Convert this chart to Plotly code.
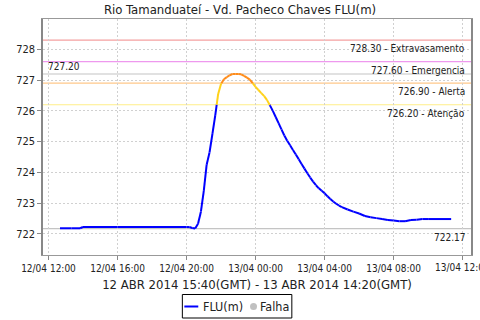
import plotly.graph_objects as go
import pandas as pd

# ---- data ----
times = ["2014-04-12 12:40", "2014-04-12 13:20", "2014-04-12 13:50", "2014-04-12 14:00",
         "2014-04-12 16:00", "2014-04-12 18:00", "2014-04-12 20:00", "2014-04-12 20:10",
         "2014-04-12 20:20", "2014-04-12 20:30", "2014-04-12 20:40", "2014-04-12 20:50",
         "2014-04-12 21:00", "2014-04-12 21:10", "2014-04-12 21:20", "2014-04-12 21:30",
         "2014-04-12 21:40", "2014-04-12 21:50", "2014-04-12 22:00", "2014-04-12 22:10",
         "2014-04-12 22:20", "2014-04-12 22:30", "2014-04-12 22:40", "2014-04-12 22:50",
         "2014-04-12 23:00", "2014-04-12 23:10", "2014-04-12 23:20", "2014-04-12 23:30",
         "2014-04-12 23:40", "2014-04-12 23:50", "2014-04-13 00:00", "2014-04-13 00:10",
         "2014-04-13 00:20", "2014-04-13 00:30", "2014-04-13 00:40", "2014-04-13 00:50",
         "2014-04-13 01:00", "2014-04-13 01:10", "2014-04-13 01:20", "2014-04-13 01:30",
         "2014-04-13 01:40", "2014-04-13 01:50", "2014-04-13 02:00", "2014-04-13 02:10",
         "2014-04-13 02:20", "2014-04-13 02:30", "2014-04-13 02:40", "2014-04-13 02:50",
         "2014-04-13 03:00", "2014-04-13 03:10", "2014-04-13 03:20", "2014-04-13 03:30",
         "2014-04-13 03:40", "2014-04-13 03:50", "2014-04-13 04:00", "2014-04-13 04:10",
         "2014-04-13 04:20", "2014-04-13 04:30", "2014-04-13 04:40", "2014-04-13 04:50",
         "2014-04-13 05:00", "2014-04-13 05:20", "2014-04-13 05:40", "2014-04-13 06:00",
         "2014-04-13 06:20", "2014-04-13 06:40", "2014-04-13 07:00", "2014-04-13 07:20",
         "2014-04-13 07:40", "2014-04-13 08:00", "2014-04-13 08:20", "2014-04-13 08:40",
         "2014-04-13 09:00", "2014-04-13 09:20", "2014-04-13 09:40", "2014-04-13 10:00",
         "2014-04-13 11:20"]
flu = [722.18, 722.18, 722.18, 722.22,
       722.22, 722.22, 722.22, 722.22,
       722.19, 722.17, 722.33, 722.72,
       723.40, 724.25, 724.65, 725.25,
       725.86, 726.55, 726.88, 727.03,
       727.10, 727.16, 727.20, 727.20,
       727.20, 727.19, 727.14, 727.08,
       727.02, 726.90, 726.78, 726.68,
       726.58, 726.48, 726.35, 726.18,
       726.00, 725.80, 725.60, 725.40,
       725.20, 725.03, 724.88, 724.73,
       724.58, 724.43, 724.27, 724.12,
       723.97, 723.83, 723.70, 723.58,
       723.48, 723.40, 723.32, 723.22,
       723.13, 723.05, 722.98, 722.92,
       722.87, 722.79, 722.72, 722.66,
       722.58, 722.54, 722.51, 722.48,
       722.45, 722.43, 722.41, 722.41,
       722.45, 722.46, 722.48, 722.48,
       722.48]

thr_values = [728.30, 727.60, 726.90, 726.20]
thr_labels = ["728.30 - Extravasamento", "727.60 - Emergencia", "726.90 - Alerta", "726.20 - Atenção"]
thr_colors = ["#F4A0A0", "#EE99EE", "#FFC88A", "#FFEE88"]
max_val = 727.20
min_val = 722.17

x_ticks = ["2014-04-12 12:00", "2014-04-12 16:00", "2014-04-12 20:00", "2014-04-13 00:00",
           "2014-04-13 04:00", "2014-04-13 08:00", "2014-04-13 12:00"]
x_tick_labels = ["12/04 12:00", "12/04 16:00", "12/04 20:00", "13/04 00:00",
                 "13/04 04:00", "13/04 08:00", "13/04 12:00"]
y_ticks = [722, 723, 724, 725, 726, 727, 728]

title = "Rio Tamanduateí - Vd. Pacheco Chaves FLU(m)"
x_title = "12 ABR 2014 15:40(GMT) - 13 ABR 2014 14:20(GMT)"
legend_names = ["FLU(m)", "Falha"]

# ---- colour-split the line at thresholds ----
ts = pd.to_datetime(times)
secs = [t.value / 1e9 for t in ts]
cuts = [726.20, 726.90]

def color_for(v):
    if v >= 726.90:
        return "orange"
    if v >= 726.20:
        return "yellow"
    return "blue"

segs = {"blue": ([], []), "yellow": ([], []), "orange": ([], [])}
for i in range(len(flu) - 1):
    x0, x1, y0, y1 = secs[i], secs[i + 1], flu[i], flu[i + 1]
    pts = [(x0, y0)]
    crossings = []
    for c in cuts:
        if (y0 - c) * (y1 - c) < 0:
            f = (c - y0) / (y1 - y0)
            crossings.append((x0 + f * (x1 - x0), c))
    crossings.sort()
    pts += crossings + [(x1, y1)]
    for j in range(len(pts) - 1):
        (a, ya), (b, yb) = pts[j], pts[j + 1]
        col = color_for((ya + yb) / 2)
        xs, ys = segs[col]
        xs += [pd.to_datetime(a, unit="s"), pd.to_datetime(b, unit="s"), None]
        ys += [ya, yb, None]

line_colors = {"blue": "#0000FF", "yellow": "#FFD21A", "orange": "#FF8C1A"}

FONT = "DejaVu Sans Condensed, DejaVu Sans, sans-serif"
TXT = "#222"

fig = go.Figure()
for col in ["blue", "yellow", "orange"]:
    fig.add_trace(go.Scatter(x=segs[col][0], y=segs[col][1], mode="lines",
                             line=dict(color=line_colors[col], width=2),
                             name=legend_names[0], showlegend=False))

# plot geometry in pixels (for placing the legend box below the plot)
L, R, T, B = 43, 7, 19, 65
PW, PH = 480 - L - R, 320 - T - B
def px(xp):
    return (xp - L) / PW
def py(yp):
    return (320 - B - yp) / PH

shapes = []
annotations = []
for v, lab, c in zip(thr_values, thr_labels, thr_colors):
    shapes.append(dict(type="line", xref="paper", x0=0, x1=1, yref="y", y0=v, y1=v,
                       line=dict(color=c, width=1.2), layer="below"))
    annotations.append(dict(xref="paper", x=0.99, yref="y", y=v, text=lab, showarrow=False,
                            xanchor="right", yanchor="top", yshift=-1,
                            font=dict(family=FONT, size=10, color=TXT)))
for v in [max_val, min_val]:
    shapes.append(dict(type="line", xref="paper", x0=0, x1=1, yref="y", y0=v, y1=v,
                       line=dict(color="#C4C4C4", width=1.2), layer="below"))
annotations.append(dict(xref="paper", x=0.007, yref="y", y=max_val, text=f"{max_val:.2f}",
                        showarrow=False, xanchor="left", yanchor="bottom", yshift=0,
                        font=dict(family=FONT, size=10, color=TXT)))
annotations.append(dict(xref="paper", x=0.99, yref="y", y=min_val, text=f"{min_val:.2f}",
                        showarrow=False, xanchor="right", yanchor="top", yshift=-1,
                        font=dict(family=FONT, size=10, color=TXT)))
# last x tick label (clipped by the page edge, as in the original)
annotations.append(dict(xref="x", x=x_ticks[-1], yref="paper", y=0, yshift=-5,
                        text=x_tick_labels[-1], showarrow=False, xanchor="center",
                        yanchor="top", font=dict(family=FONT, size=10, color=TXT)))

# custom legend box
shapes.append(dict(type="rect", xref="paper", yref="paper", x0=px(183), x1=px(293),
                   y0=py(294.5), y1=py(318), line=dict(color="black", width=1),
                   fillcolor="white"))
shapes.append(dict(type="line", xref="paper", yref="paper", x0=px(185), x1=px(199),
                   y0=py(306.5), y1=py(306.5), line=dict(color="#0000FF", width=2)))
shapes.append(dict(type="circle", xref="paper", yref="paper", x0=px(251), x1=px(258),
                   y0=py(303), y1=py(310), line=dict(color="#C0C0C0", width=0),
                   fillcolor="#C0C0C0"))
annotations.append(dict(xref="paper", yref="paper", x=px(201.5), y=py(306.5),
                        text=legend_names[0], showarrow=False, xanchor="left",
                        yanchor="middle", font=dict(family=FONT, size=12.5, color=TXT)))
annotations.append(dict(xref="paper", yref="paper", x=px(259.5), y=py(306.5),
                        text=legend_names[1], showarrow=False, xanchor="left",
                        yanchor="middle", font=dict(family=FONT, size=12.5, color=TXT)))

fig.update_layout(
    width=480, height=320,
    margin=dict(l=L, r=R, t=T, b=B),
    paper_bgcolor="white", plot_bgcolor="white",
    font=dict(family=FONT, size=10, color=TXT),
    title=dict(text=title, x=0.5, xref="container", xanchor="center",
               y=1 - 9 / 320, yref="container", yanchor="middle",
               font=dict(family=FONT, size=13, color=TXT)),
    shapes=shapes, annotations=annotations,
    showlegend=False,
)
fig.update_xaxes(
    range=["2014-04-12 11:41", "2014-04-13 12:29"],
    tickvals=x_ticks, ticktext=x_tick_labels,
    ticks="outside", ticklen=4, tickcolor="#888",
    showline=True, linecolor="#999", linewidth=1, mirror=True,
    showgrid=True, gridcolor="#D0D0D0", griddash="2px,2px", gridwidth=1,
    zeroline=False,
    tickfont=dict(family=FONT, size=10, color=TXT),
    title=dict(text=x_title, standoff=6, font=dict(family=FONT, size=13, color=TXT)),
)
fig.update_yaxes(
    range=[721.31, 728.99],
    tickvals=y_ticks,
    ticks="outside", ticklen=4, tickcolor="#888",
    showline=True, linecolor="#888", linewidth=1.5, mirror=True,
    showgrid=True, gridcolor="#D0D0D0", griddash="2px,2px", gridwidth=1,
    zeroline=False,
    tickfont=dict(family=FONT, size=11, color=TXT),
)

fig.write_html("out.html")
